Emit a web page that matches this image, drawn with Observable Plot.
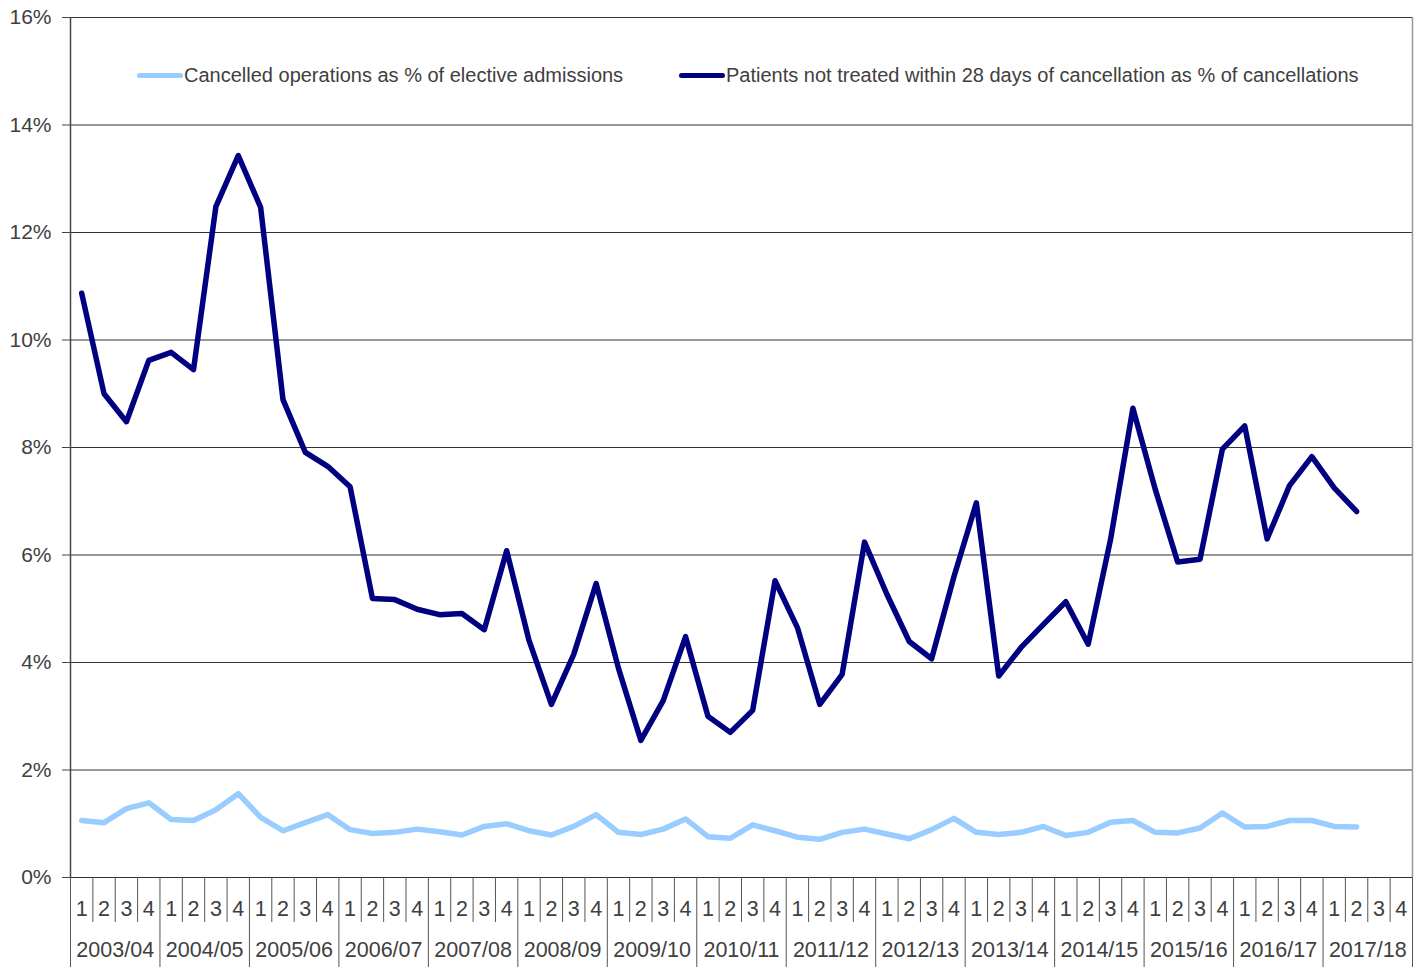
<!DOCTYPE html>
<html>
<head>
<meta charset="utf-8">
<script src="https://cdn.jsdelivr.net/npm/d3@7"></script>
<script src="https://cdn.jsdelivr.net/npm/@observablehq/plot@0.6"></script>
<style>
  body { margin: 0; background: #fff; }
  #wrap { position: relative; width: 1426px; height: 967px; font-family: "Liberation Sans", Arial, sans-serif; }
  .legend { position: absolute; top: 62px; left: 0; width: 1426px; height: 26px; font-size: 20px; color: #404040; }
  .item { position: absolute; display: flex; align-items: center; height: 26px; white-space: nowrap; }
  .sw { width: 46px; height: 5px; border-radius: 3px; margin-right: 1px; }
</style>
</head>
<body>
<div id="wrap"></div>
<script>
// ---- data ----
const years = ["2003/04","2004/05","2005/06","2006/07","2007/08","2008/09","2009/10","2010/11","2011/12","2012/13","2013/14","2014/15","2015/16","2016/17","2017/18"];
const quarters = ["1","2","3","4"];
const seriesNames = ["Cancelled operations as % of elective admissions", "Patients not treated within 28 days of cancellation as % of cancellations"];
const seriesColors = ["#99ccff", "#000080"];
const cancelledPct = [1.06, 1.02, 1.28, 1.39, 1.08, 1.06, 1.26, 1.56, 1.12, 0.87,
  1.02, 1.17, 0.89, 0.82, 0.84, 0.90, 0.85, 0.79, 0.95, 1.00,
  0.87, 0.79, 0.95, 1.17, 0.84, 0.80, 0.90, 1.09, 0.76, 0.73,
  0.98, 0.87, 0.75, 0.71, 0.84, 0.90, 0.81, 0.72, 0.89, 1.10,
  0.84, 0.80, 0.84, 0.95, 0.78, 0.84, 1.03, 1.06, 0.84, 0.83,
  0.92, 1.20, 0.94, 0.95, 1.06, 1.06, 0.95, 0.94];
const notTreatedPct = [10.87, 9.0, 8.48, 9.62, 9.77, 9.45, 12.48, 13.43, 12.47, 8.89,
  7.91, 7.65, 7.27, 5.19, 5.17, 4.99, 4.89, 4.91, 4.61, 6.08,
  4.41, 3.22, 4.15, 5.47, 3.89, 2.55, 3.29, 4.48, 3.0, 2.70,
  3.11, 5.52, 4.65, 3.22, 3.78, 6.24, 5.27, 4.39, 4.07, 5.6,
  6.97, 3.75, 4.28, 4.71, 5.13, 4.34, 6.29, 8.73, 7.22, 5.87,
  5.92, 7.97, 8.40, 6.30, 7.29, 7.83, 7.25, 6.81];
const yTicks = [0, 2, 4, 6, 8, 10, 12, 14, 16];

// ---- build table ----
const nSlots = years.length * quarters.length;
const rows = [];
[cancelledPct, notTreatedPct].forEach((vals, s) => {
  vals.forEach((v, i) => rows.push({series: seriesNames[s], slot: i + 0.5, value: v}));
});
const slotCenters = d3.range(nSlots).map(i => i + 0.5);
const quarterBounds = d3.range(1, nSlots).filter(i => i % quarters.length !== 0);
const yearBounds = d3.range(0, nSlots + 1, quarters.length);
const yearCenters = years.map((y, k) => k * quarters.length + quarters.length / 2);

const font = "'Liberation Sans', Arial, sans-serif";
const chart = Plot.plot({
  width: 1426,
  height: 967,
  marginTop: 17,
  marginLeft: 70,
  marginRight: 14,
  marginBottom: 90,
  style: {fontFamily: font, color: "#404040", background: "#fff"},
  x: {domain: [0, nSlots]},
  y: {domain: [0, 16]},
  color: {domain: seriesNames, range: seriesColors},
  marks: [
    Plot.ruleY(yTicks, {stroke: "#333", strokeWidth: 1.2}),
    Plot.ruleX([0], {stroke: "#444", strokeWidth: 1.5}),
    Plot.ruleX([nSlots], {stroke: "#999", strokeWidth: 1.5}),
    Plot.axisY({ticks: yTicks, tickFormat: d => d + "%", tickSize: 8, tickPadding: 11, fontSize: 21, stroke: "#444", label: null}),
    Plot.axisX({ticks: quarterBounds, tickSize: 45, tickFormat: () => "", stroke: "#555", label: null}),
    Plot.axisX({ticks: yearBounds, tickSize: 90, tickFormat: () => "", stroke: "#555", label: null}),
    Plot.axisX({ticks: slotCenters, tickSize: 0, tickPadding: 23, tickFormat: d => quarters[Math.floor(d) % quarters.length], fontSize: 21.5, label: null}),
    Plot.axisX({ticks: yearCenters, tickSize: 0, tickPadding: 64, tickFormat: d => years[Math.floor(d / quarters.length)], fontSize: 21.5, label: null}),
    Plot.line(rows, {x: "slot", y: "value", z: "series", stroke: "series", strokeWidth: 5.5, strokeLinejoin: "round", strokeLinecap: "round"})
  ]
});

const wrap = document.getElementById("wrap");
wrap.appendChild(chart);

// legend (inside plot area, as in the reference)
const legend = document.createElement("div");
legend.className = "legend";
const lefts = [137, 679];
seriesNames.forEach((name, s) => {
  const it = document.createElement("div");
  it.className = "item";
  it.style.left = lefts[s] + "px";
  const sw = document.createElement("span");
  sw.className = "sw";
  sw.style.background = seriesColors[s];
  const tx = document.createElement("span");
  tx.textContent = name;
  it.appendChild(sw);
  it.appendChild(tx);
  legend.appendChild(it);
});
wrap.appendChild(legend);
</script>
</body>
</html>
